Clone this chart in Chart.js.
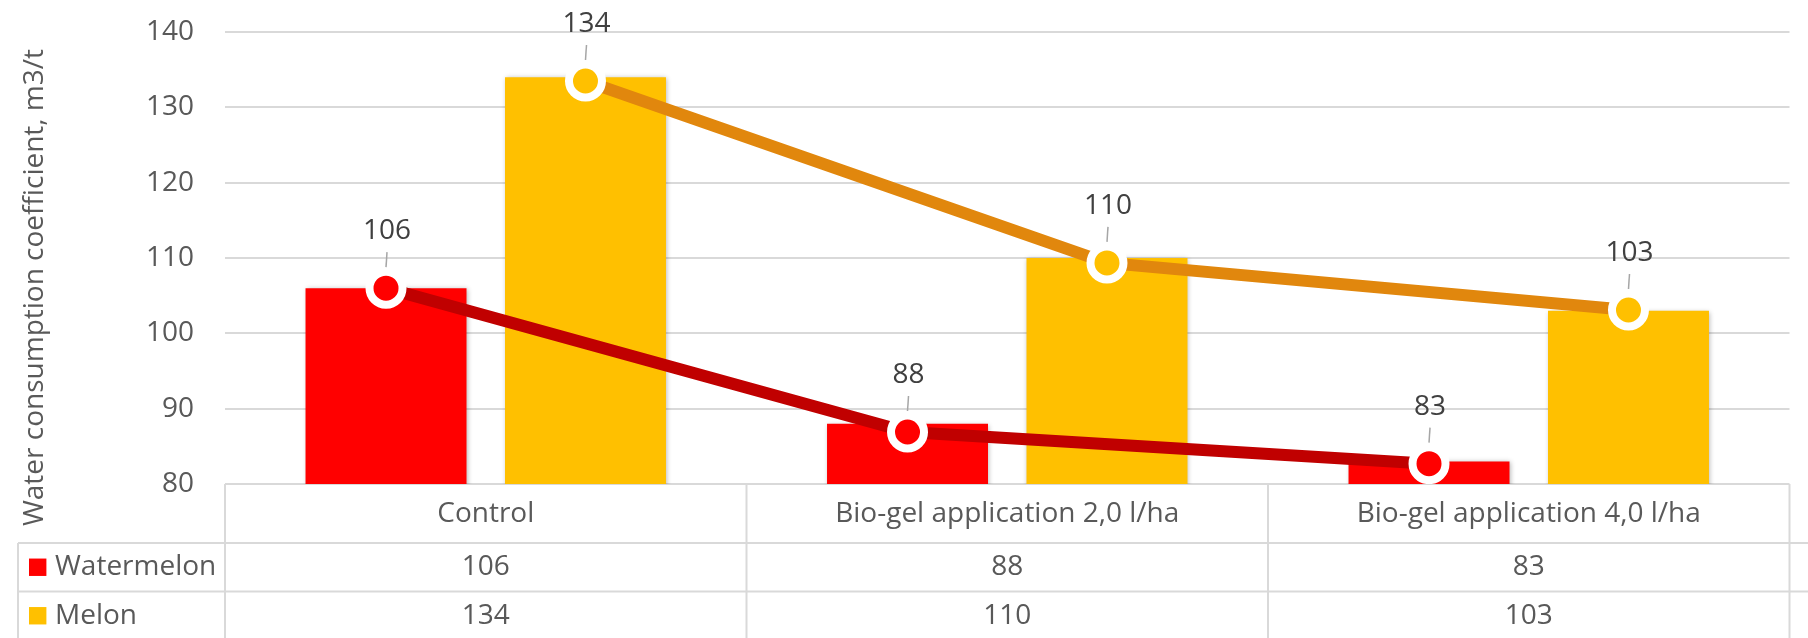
<!DOCTYPE html>
<html>
<head>
<meta charset="utf-8">
<script src="https://cdn.jsdelivr.net/npm/chart.js@4.4.1/dist/chart.umd.min.js"></script>
<style>
    html, body { margin: 0; padding: 0; background: #fff; overflow: hidden; }
    #wrap { width: 1814px; height: 638px; }
</style>
</head>
<body>
<div id="wrap"><canvas id="chart"></canvas></div>
<script>
// data
const categories = ['Control', 'Bio-gel application 2,0 l/ha', 'Bio-gel application 4,0 l/ha'];
const watermelon = [106, 88, 83];
const melon = [134, 110, 103];
// trend lines (markers sit a little below the bar tops in the original)
const watermelonLine = [106, 86.9, 82.7];
const melonLine = [133.5, 109.35, 103.1];
const yTicks = [80, 90, 100, 110, 120, 130, 140];
const yTitle = 'Water consumption coefficient, m3/t';

const FONT = 'Open Sans';
const TEXT = '#595959';
const GRID = '#d9d9d9';

// move the line points onto the centres of the matching bars
const snapToBars = {
    id: 'snapToBars',
    afterDatasetsUpdate(chart) {
        chart.data.datasets.forEach((ds, i) => {
            if (ds.type !== 'line' || ds.barOf == null) return;
            const bars = chart.getDatasetMeta(ds.barOf).data;
            const meta = chart.getDatasetMeta(i);
            meta.data.forEach((pt, k) => { pt.x = bars[k].x; });
            delete meta.dataset._path;
        });
    }
};

// soft shadow under the bars
const barShadow = {
    id: 'barShadow',
    beforeDatasetDraw(chart, args) {
        if (args.meta.type !== 'bar') return;
        const ctx = chart.ctx;
        ctx.save();
        ctx.shadowColor = 'rgba(0,0,0,0.3)';
        ctx.shadowBlur = 5;
        ctx.shadowOffsetX = 1;
        ctx.shadowOffsetY = 1;
    },
    afterDatasetDraw(chart, args) {
        if (args.meta.type !== 'bar') return;
        chart.ctx.restore();
    }
};

// value labels with small leader lines above the markers
const lineLabels = {
    id: 'lineLabels',
    afterDatasetsDraw(chart) {
        const ctx = chart.ctx;
        chart.data.datasets.forEach((ds, i) => {
            if (ds.type !== 'line' || !ds.labelValues) return;
            chart.getDatasetMeta(i).data.forEach((pt, k) => {
                ctx.save();
                ctx.strokeStyle = '#a6a6a6';
                ctx.lineWidth = 1.5;
                ctx.beginPath();
                ctx.moveTo(pt.x + 1, pt.y - 36);
                ctx.lineTo(pt.x, pt.y - 21);
                ctx.stroke();
                ctx.fillStyle = '#404040';
                ctx.font = '28px "' + FONT + '"';
                ctx.textAlign = 'center';
                ctx.textBaseline = 'middle';
                ctx.fillText(String(ds.labelValues[k]), pt.x + 1, pt.y - 57);
                ctx.restore();
            });
        });
    }
};

// y title centred over plot + header row, like Excel does
const sideTitle = {
    id: 'sideTitle',
    afterDraw(chart) {
        const ctx = chart.ctx;
        const cy = (chart.chartArea.top + chart.scales.x.bottom) / 2;
        ctx.save();
        ctx.translate(35, cy);
        ctx.rotate(-Math.PI / 2);
        ctx.font = '28px "' + FONT + '"';
        ctx.fillStyle = TEXT;
        ctx.textAlign = 'center';
        ctx.textBaseline = 'middle';
        ctx.fillText(yTitle, 0, 0);
        ctx.restore();
    }
};

// Excel style data table under the x axis
const dataTable = {
    id: 'dataTable',
    afterDraw(chart) {
        const ctx = chart.ctx;
        const x = chart.scales.x;
        const half = (x.getPixelForTick(1) - x.getPixelForTick(0)) / 2;
        const top = x.top;
        const rowTop = x.bottom;
        const rowH = 48.5;
        const bottom = rowTop + rowH * 2;
        const tableLeft = 18;

        ctx.save();
        ctx.strokeStyle = GRID;
        ctx.lineWidth = 2;
        ctx.beginPath();
        for (let r = 0; r <= 2; r++) {
            ctx.moveTo(tableLeft, rowTop + r * rowH);
            ctx.lineTo(chart.width, rowTop + r * rowH);
        }
        ctx.moveTo(tableLeft, rowTop);
        ctx.lineTo(tableLeft, bottom);
        for (let i = 0; i <= categories.length; i++) {
            const bx = x.getPixelForTick(0) - half + i * half * 2;
            ctx.moveTo(bx, top);
            ctx.lineTo(bx, bottom);
        }
        ctx.stroke();

        const rows = [
            { name: 'Watermelon', color: '#ff0000', values: watermelon },
            { name: 'Melon', color: '#ffc000', values: melon }
        ];
        ctx.font = '28px "' + FONT + '"';
        ctx.textBaseline = 'middle';
        rows.forEach((row, r) => {
            const cy = rowTop + r * rowH + rowH / 2;
            ctx.fillStyle = row.color;
            ctx.fillRect(29, cy - 8.7, 17.4, 17.4);
            ctx.fillStyle = TEXT;
            ctx.textAlign = 'left';
            ctx.fillText(row.name, 55, cy);
            ctx.textAlign = 'center';
            row.values.forEach((v, k) => ctx.fillText(String(v), x.getPixelForTick(k), cy));
        });
        ctx.restore();
    }
};

new Chart(document.getElementById('chart'), {
    data: {
        labels: categories,
        datasets: [
            {
                type: 'line', label: 'Watermelon trend', data: watermelonLine, barOf: 2, labelValues: watermelon,
                borderColor: '#c00000', borderWidth: 12, tension: 0,
                pointRadius: 16.5, pointBorderWidth: 8, pointBorderColor: '#ffffff',
                pointBackgroundColor: '#ff0000', order: 0
            },
            {
                type: 'line', label: 'Melon trend', data: melonLine, barOf: 3, labelValues: melon,
                borderColor: '#e1870d', borderWidth: 12, tension: 0,
                pointRadius: 16.5, pointBorderWidth: 8, pointBorderColor: '#ffffff',
                pointBackgroundColor: '#ffc000', order: 0
            },
            {
                type: 'bar', label: 'Watermelon', data: watermelon, backgroundColor: '#ff0000',
                categoryPercentage: 0.765, barPercentage: 0.807, order: 1
            },
            {
                type: 'bar', label: 'Melon', data: melon, backgroundColor: '#ffc000',
                categoryPercentage: 0.765, barPercentage: 0.807, order: 1
            }
        ]
    },
    options: {
        responsive: true,
        maintainAspectRatio: false,
        animation: false,
        layout: { padding: { top: 32, right: 0, bottom: 95, left: 0 } },
        plugins: {
            legend: { display: false },
            tooltip: { enabled: false }
        },
        scales: {
            x: {
                offset: true,
                grid: { display: false, drawTicks: false },
                border: { display: false },
                ticks: { font: { family: FONT, size: 28 }, color: TEXT, padding: 13, maxRotation: 0, autoSkip: false },
                afterFit: (s) => { s.height = 59; }
            },
            y: {
                min: yTicks[0],
                max: yTicks[yTicks.length - 1],
                grid: { color: GRID, lineWidth: 2, drawTicks: false },
                border: { display: false },
                ticks: { font: { family: FONT, size: 28 }, color: TEXT, padding: 31 },
                afterBuildTicks: (s) => { s.ticks = yTicks.map(v => ({ value: v })); },
                afterFit: (s) => {
                    s.width = 225;
                    // tick padding would otherwise push the plot down
                    s.paddingTop = 0;
                    s.paddingBottom = 0;
                }
            }
        }
    },
    plugins: [snapToBars, barShadow, lineLabels, sideTitle, dataTable]
});
</script>
</body>
</html>
